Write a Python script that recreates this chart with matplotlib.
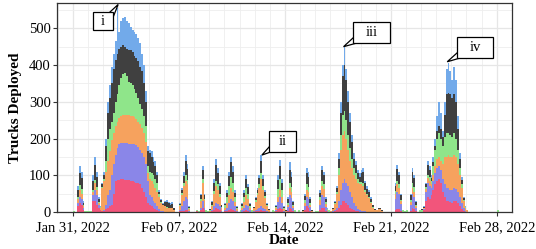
import datetime as dt
import numpy as np
import matplotlib
matplotlib.use("Agg")
import matplotlib.pyplot as plt
import matplotlib.dates as mdates
from matplotlib.ticker import MultipleLocator
from matplotlib.patches import Rectangle, Polygon

# ---------------- data (3-hour bins, cumulative stack levels) ----------------
start_date = dt.datetime(2022, 1, 31)
bin_hours = 3
# each row = one day (8 bins of 3 h), Jan 31 .. Feb 28
lvl_red = [
    [0,0,15,24,20,5,0,0], [0,0,30,30,20,10,5,2], [3,8,12,15,20,50,85,88],
    [88,90,90,88,88,86,85,85], [82,80,78,75,65,55,40,25], [20,15,10,8,5,2,0,0],
    [0,0,0,0,0,0,0,0], [2,3,4,5,5,1,0,0], [0,2,0,5,10,5,0,0],
    [0,2,6,10,8,5,1,0], [2,3,5,8,6,3,0,0], [0,1,3,5,4,1,0,1],
    [2,3,4,5,4,2,1,0], [0,0,0,2,8,10,7,1], [0,3,10,8,2,0,0,0],
    [0,0,6,15,12,4,0,0], [0,0,6,12,10,4,1,0], [0,1,2,5,10,20,30,30],
    [25,20,12,8,5,3,2,1], [0,0,0,0,0,0,0,0], [0,0,0,0,0,0,0,0],
    [0,0,6,8,7,3,0,0], [0,0,4,10,8,2,0,0], [0,5,30,40,35,45,60,75],
    [85,90,80,55,40,30,30,28], [25,30,30,25,15,8,3,0], [0,0,0,0,0,0,0,0],
    [0,0,0,0,0,0,0,0], [0,0,0,0,0,0,0,0],
]
lvl_blue = [
    [0,0,25,42,35,10,0,0], [0,0,45,60,45,20,6,4], [6,20,45,60,100,130,155,175],
    [185,187,188,188,188,186,186,185], [185,182,178,170,160,150,130,85], [45,40,30,25,15,8,3,2],
    [0,0,0,0,0,0,0,0], [5,15,30,40,35,4,0,0], [0,2,0,12,30,12,0,0],
    [1,5,15,25,22,15,3,0], [6,12,25,35,30,15,3,0], [0,5,12,20,15,5,0,2],
    [5,8,12,15,12,8,3,1], [0,0,0,6,28,40,25,4], [1,13,45,38,10,0,0,0],
    [0,1,16,40,36,13,1,0], [0,0,20,45,40,14,3,0], [0,2,5,10,30,60,80,90],
    [80,70,55,40,25,15,8,5], [3,3,2,1,0,0,0,0], [0,0,0,0,0,0,0,0],
    [0,0,35,55,48,22,0,0], [0,0,20,50,42,12,0,0], [0,8,55,78,70,65,85,105],
    [120,125,115,90,75,65,65,60], [60,65,62,55,40,25,10,2], [0,0,0,0,0,0,0,0],
    [0,0,0,0,0,0,0,0], [0,0,0,0,0,0,0,0],
]
lvl_orange = [
    [0,0,35,60,50,15,0,0], [0,0,55,78,60,25,12,65], [85,110,140,165,195,215,235,245],
    [255,262,265,265,265,264,262,260], [258,252,245,240,228,215,190,105], [90,85,75,65,55,40,25,18],
    [15,12,10,10,10,5,0,0], [15,45,70,85,75,8,0,0], [0,2,0,30,80,32,0,0],
    [3,15,50,70,60,40,10,0], [12,25,45,65,55,28,7,0], [0,12,28,45,35,12,0,10],
    [28,45,65,90,60,38,15,5], [0,0,0,10,42,60,40,7], [2,20,65,55,15,0,0,0],
    [0,2,25,60,54,20,2,0], [0,0,32,70,62,22,6,0], [2,8,22,50,100,170,210,220],
    [200,170,140,120,100,90,80,75], [75,72,55,45,38,25,12,5], [5,8,8,4,0,0,0,0],
    [0,0,50,75,65,30,0,0], [0,0,28,65,55,17,0,0], [0,10,62,92,85,75,100,125],
    [145,150,140,130,150,150,155,150], [150,155,150,130,100,65,30,12], [5,0,0,0,0,0,0,0],
    [0,0,0,0,0,0,0,0], [0,0,0,0,0,0,0,0],
]
lvl_green = [
    [3,0,42,74,62,18,4,4], [4,3,60,88,68,28,13,68], [90,140,200,225,245,270,300,320],
    [345,365,375,378,370,355,350,345], [335,325,310,295,280,260,235,125], [110,105,100,90,80,50,28,20],
    [17,14,12,12,12,6,0,0], [18,52,80,100,88,10,0,0], [0,5,3,35,90,36,5,4],
    [6,20,58,85,75,50,13,0], [18,40,70,95,80,40,10,0], [5,17,40,65,50,17,5,11],
    [32,52,75,105,70,44,18,6], [0,5,4,13,62,90,60,10], [4,25,80,68,19,5,0,5],
    [0,4,32,75,67,25,4,0], [4,3,40,85,75,27,7,5], [3,9,25,55,120,210,265,275],
    [250,210,175,145,120,105,90,82], [82,80,60,50,42,28,14,6], [5,8,9,4,0,0,0,0],
    [0,0,56,85,75,34,5,4], [5,0,33,80,68,20,0,5], [6,12,68,100,95,85,125,170],
    [200,215,200,180,205,215,215,210], [205,215,200,170,120,75,33,13], [5,0,0,0,0,0,0,0],
    [0,0,0,0,0,0,0,0], [6,0,0,0,0,0,0,0],
]
lvl_gray = [
    [3,0,60,106,92,25,4,4], [4,3,85,128,95,35,14,75], [100,180,270,310,350,390,415,430],
    [445,450,455,450,445,440,440,435], [425,420,410,395,385,350,300,165], [160,150,135,125,100,55,32,23],
    [27,28,24,20,22,10,0,0], [22,60,98,140,118,13,0,0], [0,5,3,45,115,46,5,4],
    [7,26,78,128,105,70,18,0], [22,52,98,135,110,52,13,0], [5,22,52,90,68,22,5,13],
    [37,60,92,140,90,54,22,7], [0,5,4,17,88,125,80,13], [5,35,115,95,26,5,0,5],
    [0,5,43,105,95,35,5,0], [4,3,53,115,100,36,9,5], [3,10,28,65,145,270,370,400],
    [360,300,245,190,145,128,105,95], [105,110,78,62,55,36,18,7], [5,10,11,5,0,0,0,0],
    [0,0,72,118,100,45,5,4], [5,0,45,110,92,27,0,5], [8,14,75,128,115,92,135,180],
    [220,235,225,205,265,320,325,320], [310,320,300,225,145,88,37,14], [5,0,0,0,0,0,0,0],
    [0,0,0,0,0,0,0,0], [6,0,0,0,0,0,0,0],
]
lvl_total = [
    [3,0,70,125,110,30,4,4], [4,3,100,150,110,40,15,80], [110,200,300,345,395,430,465,555],
    [490,520,528,530,520,515,505,495], [490,485,475,460,430,400,330,180], [170,165,150,140,110,60,35,25],
    [30,32,28,25,28,12,0,0], [25,65,110,155,130,15,0,0], [0,5,3,50,125,50,5,4],
    [8,30,90,145,120,80,20,0], [25,60,110,150,125,60,15,0], [5,25,60,100,75,25,5,14],
    [40,65,100,155,100,60,25,8], [0,5,4,20,100,142,90,15], [5,40,135,110,30,5,0,5],
    [0,5,50,120,110,40,5,0], [4,3,60,125,110,40,10,5], [3,10,30,70,160,300,400,450],
    [390,330,270,210,160,140,115,105], [115,120,85,70,60,40,20,8], [5,10,12,5,0,0,0,0],
    [0,0,80,128,110,50,5,4], [5,0,50,120,100,30,0,5], [8,15,80,140,125,100,150,200],
    [260,300,270,220,300,390,405,385], [360,395,360,260,160,95,40,15], [5,0,0,0,0,0,0,0],
    [0,0,0,0,0,0,0,0], [6,0,0,0,0,0,0,0],
]
layer_colors = ["#F2557B", "#8A86E8", "#F6A25E", "#8FE58A", "#404040", "#72AAEA"]

y_ticks = [0, 100, 200, 300, 400, 500]
x_tick_dates = [dt.datetime(2022, 1, 31), dt.datetime(2022, 2, 7), dt.datetime(2022, 2, 14),
                dt.datetime(2022, 2, 21), dt.datetime(2022, 2, 28)]

# annotations: label, tip time, tip value
ann_labels = ["i", "ii", "iii", "iv"]
ann_times = [dt.datetime(2022, 2, 2, 23, 30), dt.datetime(2022, 2, 12, 11, 30),
             dt.datetime(2022, 2, 17, 21, 0), dt.datetime(2022, 2, 24, 17, 30)]
ann_values = [565, 155, 450, 409]

# ---------------- plotting ----------------
plt.rcParams['font.family'] = ['Liberation Serif', 'DejaVu Serif']

levels = np.array([np.ravel(l) for l in
                   (lvl_red, lvl_blue, lvl_orange, lvl_green, lvl_gray, lvl_total)], dtype=float)
levels = np.vstack([np.zeros(levels.shape[1]), levels])
n_bins = levels.shape[1]
times = [start_date + dt.timedelta(hours=bin_hours * i) for i in range(n_bins)]
xnum = mdates.date2num(times)
width = bin_hours / 24.0

fig = plt.figure(figsize=(5.36, 2.49), dpi=100)
ax = fig.add_axes([57 / 536, 1 - 212 / 249, 455 / 536, 209 / 249])

for j in range(6):
    h = levels[j + 1] - levels[j]
    ax.bar(xnum, h, width=width, bottom=levels[j], align='edge',
           color=layer_colors[j], linewidth=0, zorder=2)

ax.set_xlim(mdates.date2num(dt.datetime(2022, 1, 29, 22, 30)),
            mdates.date2num(dt.datetime(2022, 3, 1, 0, 15)))
ax.set_ylim(0, 569)

ax.set_xticks(mdates.date2num(x_tick_dates))
ax.xaxis.set_major_formatter(mdates.DateFormatter('%b %d, %Y'))
ax.xaxis.set_minor_locator(mdates.DayLocator())
ax.set_yticks(y_ticks)
ax.yaxis.set_minor_locator(MultipleLocator(50))

ax.grid(which='major', color='#E6E6E6', lw=0.9, zorder=0)
ax.grid(which='minor', color='#EEEEEE', lw=0.6, zorder=0)
ax.set_axisbelow(True)

for s in ax.spines.values():
    s.set_color('#333333')
    s.set_linewidth(0.9)
ax.tick_params(which='major', length=3, width=0.8, color='#333333', labelsize=10.5,
               labelcolor='black')
ax.tick_params(axis='y', which='major', pad=1.5)
ax.tick_params(axis='x', which='major', pad=3.5)
ax.tick_params(which='minor', length=0)

ax.set_xlabel('Date', fontsize=11, fontweight='bold', labelpad=0)
ax.set_ylabel('Trucks Deployed', fontsize=11, fontweight='bold', labelpad=5)

# callout boxes (axes-fraction layout): x0, x1, y0, y1
box_rects = [(0.0785, 0.1237, 0.8708, 0.9555), (0.4666, 0.5253, 0.2885, 0.3876),
             (0.6505, 0.7319, 0.8072, 0.9105), (0.8791, 0.9582, 0.7368, 0.8373)]
# tail base points as fractions of the box (u, v)
tail_bases = [((1.0, 0.53), (0.80, 1.0)), ((0.0, 0.32), (0.21, 0.0)),
              ((0.0, 0.34), (0.19, 0.0)), ((0.0, 0.33), (0.19, 0.0))]
to_axes = ax.transData + ax.transAxes.inverted()
for lab, t, v, (x0, x1, y0, y1), (b1, b2) in zip(ann_labels, ann_times, ann_values,
                                                 box_rects, tail_bases):
    tip = to_axes.transform((mdates.date2num(t), v))
    p1 = (x0 + b1[0] * (x1 - x0), y0 + b1[1] * (y1 - y0))
    p2 = (x0 + b2[0] * (x1 - x0), y0 + b2[1] * (y1 - y0))
    # pull base points slightly inside the box so the join is hidden
    cx, cy = (x0 + x1) / 2, (y0 + y1) / 2
    q1 = (p1[0] + 0.15 * (cx - p1[0]), p1[1] + 0.15 * (cy - p1[1]))
    q2 = (p2[0] + 0.15 * (cx - p2[0]), p2[1] + 0.15 * (cy - p2[1]))
    ax.add_patch(Polygon([q1, tuple(tip), q2], closed=True, transform=ax.transAxes,
                         fc='white', ec='black', lw=0.9, zorder=9, clip_on=False,
                         joinstyle='miter'))
    ax.add_patch(Rectangle((x0, y0), x1 - x0, y1 - y0, transform=ax.transAxes,
                           fc='white', ec='black', lw=0.9, zorder=10, clip_on=False))
    ax.text(cx, cy, lab, transform=ax.transAxes, ha='center', va='center',
            fontsize=10.5, zorder=11)

fig.savefig('out.png', dpi=100)
